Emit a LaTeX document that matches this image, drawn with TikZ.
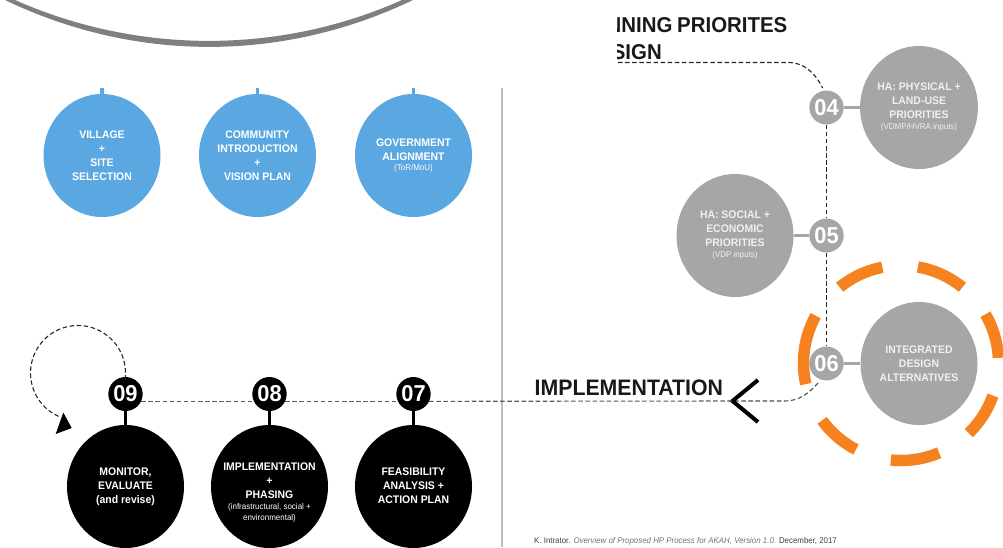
\documentclass[tikz,border=0pt]{standalone}
\usepackage{fontspec}
\usetikzlibrary{shapes.geometric}
\setmainfont{Liberation Sans}[FakeStretch=0.95]
\definecolor{blueC}{HTML}{5BA7E1}
\definecolor{grayC}{HTML}{A5A6A8}
\definecolor{orangeC}{HTML}{F5821F}
\definecolor{arcC}{HTML}{7F7F7F}
\definecolor{ruleC}{HTML}{BDBDBD}
\tikzset{
  x=1pt,y=-1pt,
  bigc/.style={ellipse,minimum width=117pt,minimum height=123pt,inner sep=0pt,text=white,align=center,
     font=\fontsize{11}{14}\selectfont\bfseries},
  bluec/.style={bigc,fill=blueC,text=white},
  grayc/.style={bigc,fill=grayC,text=white!94!black},
  blackc/.style={bigc,fill=black},
  badge/.style={ellipse,minimum width=33pt,minimum height=34pt,inner sep=0pt,text=white,font=\fontsize{23}{23}\selectfont\bfseries},
  gbadge/.style={badge,fill=grayC},
  kbadge/.style={badge,fill=black},
  stub/.style={line width=3.8pt},
  dashln/.style={line width=1.1pt,dash pattern=on 4.5pt off 2.6pt},
  heading/.style={font=\fontsize{21.5}{22}\selectfont\bfseries,text=black!90,inner sep=0pt},
  orangeseg/.style={line width=11.5pt,orangeC,line cap=butt},
  blacktext/.style={align=center,text=white,font=\fontsize{11}{14}\selectfont\bfseries},
}
\newcommand{\subt}[1]{{\fontsize{8.4}{9}\selectfont\mdseries #1}}
\begin{document}
\begin{tikzpicture}
\useasboundingbox (0,0) rectangle (1003,547);
\clip (0,0) rectangle (1003,547);
% top crescent
\fill[arcC] (5,0) .. controls (135,62.5) and (283,62.5) .. (413,0) -- (402,0)
   .. controls (280,54.5) and (138,54.5) .. (15,0) -- cycle;
% vertical rule
\coordinate (ruleA) at (502,88);
\coordinate (ruleB) at (502,547);
\draw[ruleC,line width=2.2pt] (ruleA) -- (ruleB);
% blue stage circles
\node[bluec] (v1) at (102,155.5) {VILLAGE\\+\\SITE\\SELECTION};
\node[bluec] (v2) at (257.5,155.5) {COMMUNITY\\INTRODUCTION\\+\\VISION PLAN};
\node[bluec] (v3) at (413.5,155.5) {GOVERNMENT\\ALIGNMENT\\[-4pt]\subt{(ToR/MoU)}};
\coordinate (s1) at (102,88);
\coordinate (s2) at (257.5,88);
\coordinate (s3) at (413.5,88);
\draw[blueC,stub] (s1) -- (v1.north);
\draw[blueC,stub] (s2) -- (v2.north);
\draw[blueC,stub] (s3) -- (v3.north);
% orange dashed ring
\foreach \a/\b in {80/51,30/3,-19.5/-46,-67/-96,-117.5/-144,-167.5/-209,129/101}{
  \draw[orangeseg] plot[domain=\a:\b,samples=24,smooth] ({901+97.5*cos(\x)},{363-97.5*sin(\x)});
}
% headings
\begin{scope}
\clip (617,0) rectangle (800,80);
\node[heading,anchor=base east] (h1) at (787.5,32) {NNING\kern-1pt{} PRIORITES};
\node[heading,anchor=base east] (h2) at (662,59) {SIGN};
\end{scope}
\node[heading,font=\fontsize{22.4}{22}\selectfont\bfseries,anchor=base west] (impl) at (534.5,395) {IMPLEMENTATION};
% grey stages
\node[grayc] (c4) at (919,107.5) {HA: PHYSICAL +\\LAND-USE\\PRIORITIES\\[-3pt]\subt{(VDMP/HVRA inputs)}};
\node[grayc] (c5) at (735,235.5) {HA: SOCIAL +\\ECONOMIC\\PRIORITIES\\[-3pt]\subt{(VDP inputs)}};
\node[grayc] (c6) at (919,363.5) {INTEGRATED\\DESIGN\\ALTERNATIVES};
\node[gbadge] (b4) at (826.5,107.5) {04};
\node[gbadge] (b5) at (826.5,235.5) {05};
\node[gbadge] (b6) at (826.5,363.5) {06};
\draw[grayC,stub] (b4) -- (c4);
\draw[grayC,stub] (b5) -- (c5);
\draw[grayC,stub] (b6) -- (c6);
\coordinate (tl) at (618,62.5);
\draw[dashln,black!85] (tl) -- (790,62.5) .. controls (803,63) and (815,72) .. (822.5,88);
\draw[dashln,black!85] (b4) -- (b5);
\draw[dashln,black!85] (b5) -- (b6);
% chevron
\coordinate (tip) at (732.5,401);
\coordinate (chA) at (758,380);
\coordinate (chB) at (758,422);
\draw[dashln,black!70] (818,383) .. controls (810,392) and (800,401) .. (785,401) -- (tip);
\draw[black,line width=4pt] (chA) -- (tip) -- (chB);
% black stages
\node[blackc] (c9) at (125.5,486.5) {};
\node[blackc] (c8) at (269.5,486.5) {};
\node[blackc] (c7) at (413.5,486.5) {};
\node[kbadge] (b9) at (125.5,394) {09};
\node[kbadge] (b8) at (269.5,394) {08};
\node[kbadge] (b7) at (413.5,394) {07};
\draw[black,stub] (b9) -- (c9);
\draw[black,stub] (b8) -- (c8);
\draw[black,stub] (b7) -- (c7);
\node[blacktext] (t9) at (125.5,487) {MONITOR,\\EVALUATE\\(and revise)};
\node[blacktext] (t8) at (269.5,493)
  {IMPLEMENTATION\\+\\PHASING\\[-3pt]\subt{(infrastructural, social +}\\[-3pt]\subt{environmental)}};
\node[blacktext] (t7) at (413.5,486) {FEASIBILITY\\ANALYSIS +\\ACTION PLAN};
\draw[dashln,black!65] (b9.-25) -- (b8.205);
\draw[dashln,black!65] (b8.-25) -- (b7.205);
\draw[dashln,black!65] (b7.-25) -- (tip);
% monitor loop
\draw[dashln,black!85] plot[domain=-8:246,samples=60,smooth] ({78+47.5*cos(\x)},{373-47.5*sin(\x)});
\coordinate (la) at (63.3,412.5);
\coordinate (lb) at (71.7,428);
\coordinate (lc) at (55.7,434);
\fill[black] (la) -- (lb) -- (lc) -- cycle;
% credit
\node[anchor=base west,inner sep=0pt,text=black!75,font=\fontsize{8.3}{10}\selectfont] (credit) at (534,543)
  {K. Intrator. \textcolor{black!55}{\itshape Overview of Proposed HP Process for AKAH, Version 1.0.} December, 2017};
\end{tikzpicture}
\end{document}
